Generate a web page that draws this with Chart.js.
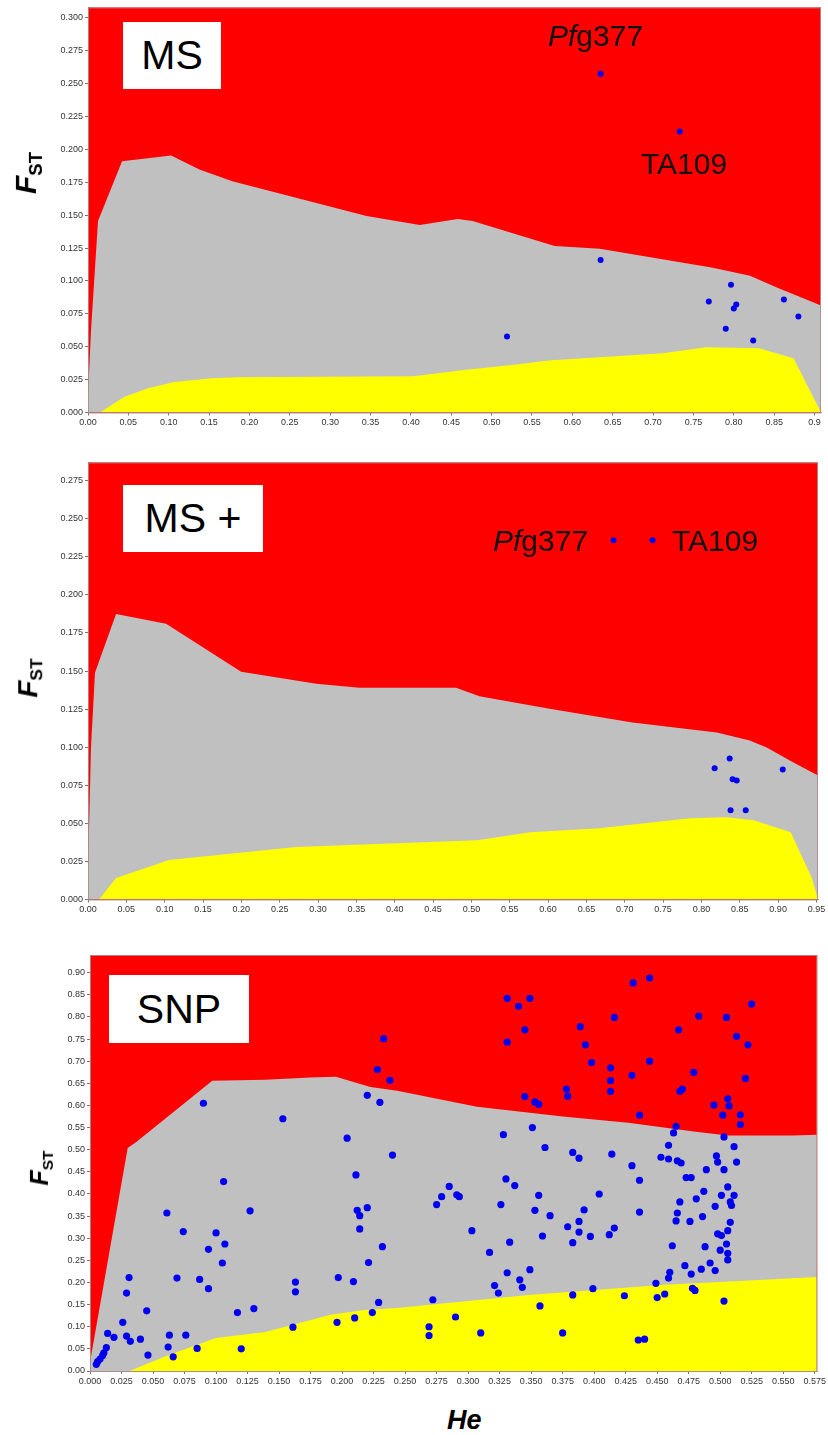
<!DOCTYPE html>
<html>
<head>
<meta charset="utf-8">
<script src="https://cdn.jsdelivr.net/npm/chart.js@4.4.1/dist/chart.umd.min.js"></script>
<style>
	body { margin: 0; background: #fff; width: 828px; height: 1435px; position: relative; overflow: hidden; font-family: "Liberation Sans", Arial, sans-serif; }
	canvas { position: absolute; left: 0; }
	.box { position: absolute; background: #fff; display: flex; align-items: center; justify-content: center; font-size: 41px; color: #000; }
	.note { position: absolute; font-size: 30px; line-height: 30px; white-space: nowrap; color: #111; }
	.fst { position: absolute; transform: translate(-50%, -50%) rotate(-90deg); font-weight: bold; white-space: nowrap; color: #000; line-height: 1; }
	.fst sub { vertical-align: -0.3em; font-size: 0.62em; }
	.he { position: absolute; font-weight: bold; font-style: italic; font-size: 27px; line-height: 27px; color: #000; }
</style>
</head>
<body>
<canvas id="msChart" width="828" height="440" style="top:0px"></canvas>
<canvas id="mspChart" width="828" height="470" style="top:455px"></canvas>
<canvas id="snpChart" width="828" height="460" style="top:945px"></canvas>

<div class="box" style="left:123px;top:22px;width:98px;height:67px;">MS</div>
<div class="box" style="left:123px;top:485px;width:140px;height:67px;">MS +</div>
<div class="box" style="left:109px;top:975px;width:140px;height:68px;">SNP</div>

<div class="note" style="left:548px;top:21px;"><i>Pf</i>g377</div>
<div class="note" style="left:641px;top:149px;">TA109</div>
<div class="note" style="left:493px;top:526px;"><i>Pf</i>g377</div>
<div class="note" style="left:672px;top:526px;">TA109</div>

<div class="fst" style="left:28px;top:173px;font-size:30px;"><i>F</i><sub>ST</sub></div>
<div class="fst" style="left:30px;top:678px;font-size:28px;"><i>F</i><sub>ST</sub></div>
<div class="fst" style="left:41px;top:1168px;font-size:25px;"><i>F</i><sub>ST</sub></div>
<div class="he" style="left:447px;top:1407px;">He</div>

<script>
// ---------- MS panel ----------
var msUpperHe = [0, 0.0037, 0.0124, 0.0422, 0.103, 0.138, 0.1787, 0.345, 0.411, 0.458, 0.4764, 0.578, 0.634, 0.774, 0.820, 0.854, 0.908];
var msUpperFst = [0.012, 0.062, 0.1455, 0.1909, 0.1954, 0.1846, 0.1757, 0.1493, 0.1425, 0.147, 0.1455, 0.1266, 0.1244, 0.110, 0.104, 0.0949, 0.0813];
var msLowerHe = [0, 0.0149, 0.0447, 0.0744, 0.1067, 0.153, 0.186, 0.403, 0.463, 0.522, 0.574, 0.712, 0.766, 0.831, 0.874, 0.908];
var msLowerFst = [0, 0, 0.0117, 0.0185, 0.0231, 0.026, 0.0268, 0.0276, 0.0321, 0.0359, 0.0397, 0.045, 0.0495, 0.0488, 0.0412, 0];
var msLociHe = [0.635, 0.733, 0.635, 0.7965, 0.769, 0.803, 0.800, 0.862, 0.880, 0.790, 0.824, 0.519];
var msLociFst = [0.2574, 0.2136, 0.116, 0.0971, 0.0843, 0.082, 0.079, 0.0858, 0.073, 0.0636, 0.0548, 0.0578];
var msXTicks = ['0.00', '0.05', '0.10', '0.15', '0.20', '0.25', '0.30', '0.35', '0.40', '0.45', '0.50', '0.55', '0.60', '0.65', '0.70', '0.75', '0.80', '0.85', '0.9'];
var msYTicks = ['0.000', '0.025', '0.050', '0.075', '0.100', '0.125', '0.150', '0.175', '0.200', '0.225', '0.250', '0.275', '0.300'];

// ---------- MS + panel ----------
var mspUpperHe = [0, 0.0039, 0.0091, 0.0366, 0.1018, 0.1997, 0.2977, 0.3538, 0.480, 0.5104, 0.6018, 0.710, 0.820, 0.863, 0.885, 0.920, 0.952];
var mspUpperFst = [0.019, 0.0998, 0.1489, 0.1875, 0.181, 0.1495, 0.1417, 0.139, 0.139, 0.1335, 0.1253, 0.1162, 0.1096, 0.1044, 0.0998, 0.090, 0.0815];
var mspLowerHe = [0, 0.0144, 0.0366, 0.1057, 0.2715, 0.5078, 0.577, 0.667, 0.7846, 0.833, 0.868, 0.9164, 0.944, 0.952];
var mspLowerFst = [0, 0, 0.0141, 0.0259, 0.0344, 0.0389, 0.0442, 0.0468, 0.0533, 0.054, 0.052, 0.0442, 0.0141, 0];
var mspLociHe = [0.6854, 0.7363, 0.8172, 0.8368, 0.8407, 0.846, 0.906, 0.838, 0.8577];
var mspLociFst = [0.2359, 0.2359, 0.0861, 0.0926, 0.0789, 0.0782, 0.0854, 0.0586, 0.0586];
var mspXTicks = ['0.00', '0.05', '0.10', '0.15', '0.20', '0.25', '0.30', '0.35', '0.40', '0.45', '0.50', '0.55', '0.60', '0.65', '0.70', '0.75', '0.80', '0.85', '0.90', '0.95'];
var mspYTicks = ['0.000', '0.025', '0.050', '0.075', '0.100', '0.125', '0.150', '0.175', '0.200', '0.225', '0.250', '0.275'];

// ---------- SNP panel ----------
var snpUpperHe = [0, 0.0299, 0.037, 0.097, 0.139, 0.175, 0.195, 0.2225, 0.2437, 0.307, 0.375, 0.427, 0.479, 0.506, 0.558, 0.577];
var snpUpperFst = [0.02, 0.504, 0.518, 0.656, 0.658, 0.663, 0.665, 0.642, 0.633, 0.597, 0.575, 0.561, 0.541, 0.532, 0.532, 0.534];
var snpLowerHe = [0, 0.0314, 0.0605, 0.0998, 0.139, 0.191, 0.2177, 0.2437, 0.348, 0.453, 0.577];
var snpLowerFst = [0, 0, 0.034, 0.0747, 0.088, 0.127, 0.138, 0.1425, 0.172, 0.1945, 0.2126];
var snpLociHe = [
	0.233, 0.228, 0.238, 0.220, 0.230, 0.090, 0.153, 0.204, 0.240, 0.106, 0.211, 0.061, 0.127, 0.212, 0.214, 0.220,
	0.074, 0.100, 0.214, 0.094, 0.107, 0.232, 0.105, 0.221, 0.031, 0.069, 0.087, 0.197, 0.209, 0.163, 0.163, 0.029,
	0.094, 0.045, 0.130, 0.229, 0.026, 0.117, 0.224, 0.014, 0.019, 0.029, 0.032, 0.040, 0.063, 0.076, 0.161, 0.196,
	0.210, 0.013, 0.062, 0.085, 0.120, 0.046, 0.066, 0.005, 0.006, 0.008, 0.010, 0.011,
	0.331, 0.340, 0.349, 0.345, 0.331, 0.431, 0.444, 0.525, 0.416, 0.389, 0.483, 0.505, 0.467, 0.513, 0.522, 0.393,
	0.398, 0.413, 0.413, 0.444, 0.430, 0.479, 0.520, 0.345, 0.353, 0.356, 0.378, 0.379, 0.413, 0.468, 0.470, 0.436,
	0.495, 0.506, 0.507, 0.502, 0.516, 0.516, 0.465, 0.463, 0.328, 0.351, 0.503, 0.361, 0.383, 0.388, 0.414, 0.430,
	0.436, 0.459, 0.453, 0.459, 0.466, 0.469, 0.489, 0.497, 0.498, 0.503, 0.511, 0.513, 0.330, 0.337, 0.285, 0.279,
	0.291, 0.293, 0.275, 0.326, 0.356, 0.404, 0.353, 0.365, 0.392, 0.436, 0.473, 0.477, 0.481, 0.487, 0.496, 0.501,
	0.506, 0.511, 0.508, 0.509, 0.468, 0.466, 0.486,
	0.465, 0.476, 0.303, 0.317, 0.333, 0.359, 0.379, 0.388, 0.388, 0.383, 0.397, 0.412, 0.416, 0.462, 0.488, 0.498,
	0.501, 0.506, 0.508, 0.505, 0.500, 0.506, 0.506, 0.331, 0.349, 0.341, 0.343, 0.321, 0.324, 0.272, 0.383, 0.399,
	0.424, 0.449, 0.459, 0.460, 0.472, 0.477, 0.485, 0.492, 0.496, 0.478, 0.480, 0.450, 0.456, 0.503, 0.290, 0.357,
	0.269, 0.269, 0.310, 0.375, 0.435, 0.440
];
var snpLociFst = [
	0.751, 0.681, 0.657, 0.623, 0.607, 0.605, 0.570, 0.526, 0.488, 0.428, 0.443, 0.357, 0.362, 0.363, 0.351, 0.369,
	0.315, 0.312, 0.321, 0.275, 0.287, 0.281, 0.244, 0.245, 0.211, 0.210, 0.207, 0.211, 0.202, 0.201, 0.179, 0.176,
	0.186, 0.136, 0.141, 0.155, 0.110, 0.132, 0.132, 0.085, 0.076, 0.079, 0.067, 0.072, 0.081, 0.081, 0.099, 0.110,
	0.120, 0.053, 0.054, 0.051, 0.050, 0.036, 0.032, 0.015, 0.021, 0.027, 0.035, 0.041,
	0.842, 0.824, 0.842, 0.771, 0.743, 0.877, 0.888, 0.829, 0.799, 0.778, 0.802, 0.799, 0.771, 0.756, 0.737, 0.737,
	0.697, 0.685, 0.656, 0.700, 0.668, 0.675, 0.661, 0.620, 0.608, 0.603, 0.637, 0.621, 0.632, 0.632, 0.637, 0.578,
	0.601, 0.615, 0.599, 0.578, 0.579, 0.557, 0.553, 0.538, 0.534, 0.550, 0.529, 0.505, 0.494, 0.481, 0.490, 0.464,
	0.431, 0.510, 0.483, 0.479, 0.475, 0.470, 0.455, 0.486, 0.472, 0.455, 0.507, 0.472, 0.434, 0.419, 0.417, 0.394,
	0.398, 0.394, 0.376, 0.376, 0.397, 0.400, 0.363, 0.351, 0.364, 0.359, 0.437, 0.437, 0.389, 0.406, 0.372, 0.397,
	0.416, 0.397, 0.382, 0.374, 0.382, 0.357, 0.349,
	0.339, 0.338, 0.317, 0.268, 0.291, 0.305, 0.326, 0.338, 0.314, 0.290, 0.304, 0.308, 0.323, 0.283, 0.281, 0.310,
	0.306, 0.317, 0.336, 0.287, 0.273, 0.266, 0.251, 0.222, 0.229, 0.206, 0.189, 0.193, 0.176, 0.161, 0.172, 0.186,
	0.170, 0.198, 0.210, 0.223, 0.238, 0.219, 0.230, 0.244, 0.227, 0.187, 0.182, 0.166, 0.174, 0.158, 0.122, 0.147,
	0.100, 0.080, 0.086, 0.086, 0.070, 0.072
];
var snpXTicks = ['0.000', '0.025', '0.050', '0.075', '0.100', '0.125', '0.150', '0.175', '0.200', '0.225', '0.250', '0.275', '0.300', '0.325', '0.350', '0.375', '0.400', '0.425', '0.450', '0.475', '0.500', '0.525', '0.550', '0.575'];
var snpYTicks = ['0.00', '0.05', '0.10', '0.15', '0.20', '0.25', '0.30', '0.35', '0.40', '0.45', '0.50', '0.55', '0.60', '0.65', '0.70', '0.75', '0.80', '0.85', '0.90'];

function toPoints(xs, ys) {
	return xs.map(function(x, i) { return { x: x, y: ys[i] }; });
}

// red background above the neutral envelope + thin frame round the plot
var panelPlugin = {
	id: 'panelBg',
	beforeDatasetsDraw: function(chart) {
		var a = chart.chartArea;
		chart.ctx.save();
		chart.ctx.fillStyle = '#ff0000';
		chart.ctx.fillRect(a.left, a.top, a.right - a.left, a.bottom - a.top);
		chart.ctx.restore();
	},
	afterDraw: function(chart) {
		var a = chart.chartArea;
		chart.ctx.save();
		chart.ctx.strokeStyle = 'rgba(170,140,140,0.9)';
		chart.ctx.lineWidth = 1;
		chart.ctx.strokeRect(a.left + 0.5, a.top + 0.5, a.right - a.left - 1, a.bottom - a.top);
		chart.ctx.restore();
	}
};

function makePanel(id, p) {
	var xVals = p.xTicks.map(parseFloat);
	var yVals = p.yTicks.map(parseFloat);
	var tickFont = { family: '"Liberation Sans", Arial, sans-serif', size: 9 };

	return new Chart(document.getElementById(id), {
		type: 'line',
		data: {
			datasets: [{
				data: toPoints(p.lociHe, p.lociFst),
				showLine: false,
				pointRadius: p.radius,
				pointHoverRadius: p.radius,
				pointBackgroundColor: '#0000ee',
				pointBorderWidth: 0,
				order: 1
			}, {
				data: toPoints(p.lowerHe, p.lowerFst),
				fill: 'origin',
				backgroundColor: '#ffff00',
				borderWidth: 0,
				borderColor: 'rgba(0,0,0,0)',
				pointRadius: 0,
				tension: 0,
				order: 2
			}, {
				data: toPoints(p.upperHe, p.upperFst),
				fill: 'origin',
				backgroundColor: '#c0c0c0',
				borderWidth: 0,
				borderColor: 'rgba(0,0,0,0)',
				pointRadius: 0,
				tension: 0,
				order: 3
			}]
		},
		options: {
			responsive: false,
			animation: false,
			devicePixelRatio: 1,
			layout: { padding: p.padding },
			plugins: {
				legend: { display: false },
				tooltip: { enabled: false }
			},
			scales: {
				x: {
					type: 'linear',
					min: 0,
					max: p.xMax,
					afterBuildTicks: function(s) { s.ticks = xVals.map(function(v) { return { value: v }; }); },
					afterFit: function(s) { s.height = 22; },
					ticks: {
						autoSkip: false,
						maxRotation: 0,
						padding: 2,
						color: '#333',
						font: tickFont,
						callback: function(v, i) { return p.xTicks[i]; }
					},
					grid: { drawOnChartArea: false, drawTicks: true, tickLength: 3, color: '#777' },
					border: { display: true, color: '#999' }
				},
				y: {
					min: 0,
					max: p.yMax,
					afterBuildTicks: function(s) { s.ticks = yVals.map(function(v) { return { value: v }; }); },
					afterFit: function(s) { s.width = p.yWidth; },
					ticks: {
						padding: 2,
						color: '#333',
						font: tickFont,
						callback: function(v, i) { return p.yTicks[i]; }
					},
					grid: { drawOnChartArea: false, drawTicks: true, tickLength: 3, color: '#777' },
					border: { display: true, color: '#999' }
				}
			}
		},
		plugins: [panelPlugin]
	});
}

makePanel('msChart', {
	upperHe: msUpperHe, upperFst: msUpperFst,
	lowerHe: msLowerHe, lowerFst: msLowerFst,
	lociHe: msLociHe, lociFst: msLociFst,
	xTicks: msXTicks, yTicks: msYTicks,
	xMax: 0.908, yMax: 0.3079, radius: 3,
	yWidth: 88,
	padding: { top: 5, right: 7, bottom: 5.5, left: 0 }
});

makePanel('mspChart', {
	upperHe: mspUpperHe, upperFst: mspUpperFst,
	lowerHe: mspLowerHe, lowerFst: mspLowerFst,
	lociHe: mspLociHe, lociFst: mspLociFst,
	xTicks: mspXTicks, yTicks: mspYTicks,
	xMax: 0.952, yMax: 0.287, radius: 3,
	yWidth: 88,
	padding: { top: 6, right: 10, bottom: 3.5, left: 0 }
});

makePanel('snpChart', {
	upperHe: snpUpperHe, upperFst: snpUpperFst,
	lowerHe: snpLowerHe, lowerFst: snpLowerFst,
	lociHe: snpLociHe, lociFst: snpLociFst,
	xTicks: snpXTicks, yTicks: snpYTicks,
	xMax: 0.577, yMax: 0.94, radius: 3.6,
	yWidth: 90,
	padding: { top: 10, right: 6, bottom: 12, left: 0 }
});
</script>
</body>
</html>
